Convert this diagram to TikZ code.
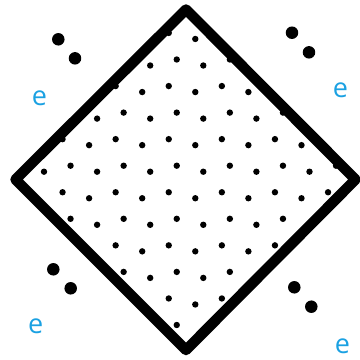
\documentclass[tikz,border=0pt]{standalone}
\usepackage{fontspec}
\setmainfont{Open Sans}
\definecolor{ink}{HTML}{000000}
\definecolor{eblue}{HTML}{1BA1E2}
\tikzset{
  rim/.style={draw=ink, line width=10.5pt, line join=round},
  site/.style={fill=ink},
  bigdot/.style={circle, fill=ink, inner sep=0pt, minimum size=12.5pt},
  elbl/.style={text=eblue, font=\fontsize{27}{30}\selectfont, inner sep=0pt},
}
\begin{document}
\begin{tikzpicture}[x=1pt,y=-1pt]
\useasboundingbox (0,0) rectangle (360,360);
\coordinate (top) at (186,9.5);
\coordinate (right) at (355.5,179.5);
\coordinate (bot) at (186,350);
\coordinate (left) at (15.5,179.5);
% lattice sites inside the cell
\begin{scope}
\clip (top)--(right)--(bot)--(left)--cycle;
\foreach \j in {0,...,14}{
  \foreach \c in {0,...,14}{
    \fill[site] ({-9.1-8*(1-mod(\j,2))+26.55*\c},{-17.15+26.55*\j+3*(1-2*mod(\c,2))}) circle[radius=3.2];
  }
}
\end{scope}
\draw[rim] (top)--(right)--(bot)--(left)--cycle;
% pairs outside
\node[bigdot] (tla) at (58.3,39.3) {};
\node[bigdot] (tlb) at (75,58.3) {};
\node[bigdot] (tra) at (292,32.7) {};
\node[bigdot] (trb) at (309,52.3) {};
\node[bigdot] (bla) at (53.3,269.3) {};
\node[bigdot] (blb) at (70.7,288.3) {};
\node[bigdot] (bra) at (294.3,287.3) {};
\node[bigdot] (brb) at (311.3,306.7) {};
\node[elbl] (etl) at (39.5,98) {e};
\node[elbl] (etr) at (340.5,90) {e};
\node[elbl] (ebl) at (35.8,326.7) {e};
\node[elbl] (ebr) at (342.5,345.8) {e};
\end{tikzpicture}
\end{document}
